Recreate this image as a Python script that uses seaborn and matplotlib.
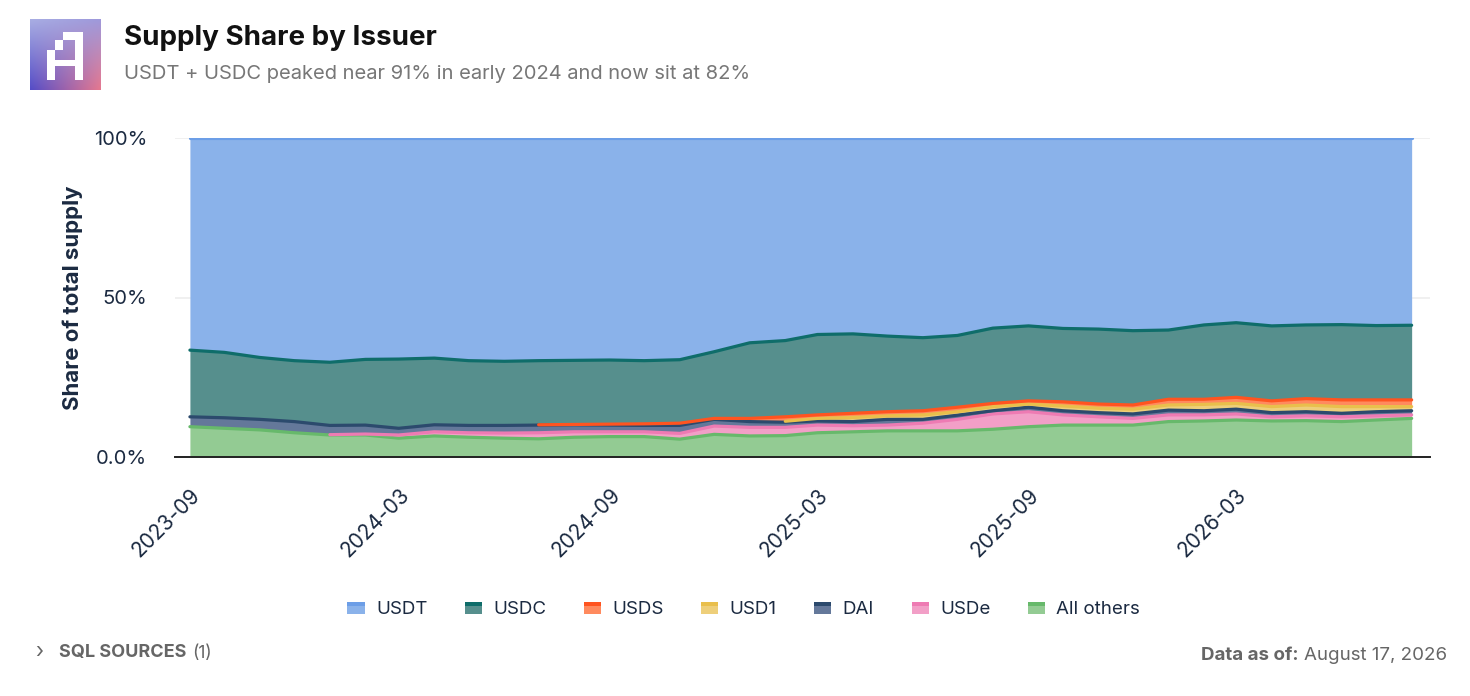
import numpy as np
import pandas as pd
import matplotlib
matplotlib.use("Agg")
import matplotlib.pyplot as plt
import seaborn as sns
from matplotlib.patches import Rectangle, Patch
from matplotlib.legend_handler import HandlerBase

# ---------------- data (share of total supply, %) ----------------
months = pd.date_range("2023-09-01", periods=36, freq="MS")
all_others = [9.5, 9.0, 8.5, 7.6, 6.9, 6.9, 5.9, 6.6, 6.2, 5.9, 5.7, 6.2, 6.4, 6.4, 5.6, 7.1, 6.6, 6.7,
              7.6, 7.9, 8.2, 8.2, 8.2, 8.7, 9.5, 10.0, 10.0, 10.0, 11.1, 11.3, 11.6, 11.3, 11.4, 11.1, 11.6, 12.1]
usde = [0.0, 0.0, 0.0, 0.0, 0.1, 0.3, 1.0, 1.3, 1.4, 1.6, 1.9, 1.7, 1.5, 1.5, 1.8, 2.6, 2.7, 2.6,
        2.4, 1.9, 1.8, 2.4, 3.6, 4.8, 4.7, 3.2, 2.6, 2.1, 2.1, 1.9, 1.9, 1.3, 1.5, 1.5, 1.3, 1.1]
dai = [3.1, 3.3, 3.3, 3.5, 2.9, 2.8, 2.1, 2.2, 2.3, 2.4, 2.4, 2.2, 2.1, 2.0, 2.5, 2.1, 1.8, 1.6,
       1.3, 1.3, 1.8, 1.2, 1.3, 1.0, 1.4, 1.3, 1.3, 1.4, 1.5, 1.3, 1.5, 1.3, 1.3, 1.1, 1.3, 1.3]
usd1 = [0.0, 0.0, 0.0, 0.0, 0.0, 0.0, 0.0, 0.0, 0.0, 0.0, 0.0, 0.0, 0.0, 0.0, 0.0, 0.0, 0.0, 0.3,
        0.8, 1.3, 1.1, 1.4, 1.1, 1.3, 1.0, 1.5, 1.4, 1.5, 1.6, 2.0, 1.8, 1.9, 2.1, 2.1, 1.6, 1.3]
usds = [0.0, 0.0, 0.0, 0.0, 0.0, 0.0, 0.0, 0.0, 0.0, 0.0, 0.1, 0.1, 0.3, 0.5, 0.7, 0.3, 1.0, 1.4,
        1.1, 1.3, 1.3, 1.3, 1.4, 1.0, 1.0, 1.3, 1.3, 1.3, 1.8, 1.6, 1.9, 1.8, 2.0, 2.1, 2.1, 2.1]
usdc = [20.9, 20.5, 19.4, 19.1, 19.8, 20.6, 21.7, 20.9, 20.3, 20.1, 20.1, 20.1, 20.1, 19.8, 19.9, 20.9, 23.7, 23.9,
        25.2, 24.9, 23.7, 22.9, 22.5, 23.6, 23.5, 23.0, 23.5, 23.3, 21.7, 23.3, 23.4, 23.5, 23.1, 23.6, 23.3, 23.4]
usdt = [66.5, 67.2, 68.8, 69.8, 70.3, 69.4, 69.3, 69.0, 69.8, 70.0, 69.8, 69.7, 69.6, 69.8, 69.5, 67.0, 64.2, 63.5,
        61.6, 61.4, 62.1, 62.6, 61.9, 59.6, 58.9, 59.7, 59.9, 60.4, 60.2, 58.6, 57.9, 58.9, 58.6, 58.5, 58.8, 58.7]

# stacking order bottom -> top
series_names = ["All others", "USDe", "DAI", "USD1", "USDS", "USDC", "USDT"]
series_vals = [all_others, usde, dai, usd1, usds, usdc, usdt]
legend_order = ["USDT", "USDC", "USDS", "USD1", "DAI", "USDe", "All others"]

y_ticks = [0, 50, 100]
y_tick_labels = ["0.0%", "50%", "100%"]
x_tick_dates = pd.to_datetime(["2023-09-01", "2024-03-01", "2024-09-01", "2025-03-01", "2025-09-01", "2026-03-01"])
x_tick_labels = ["2023-09", "2024-03", "2024-09", "2025-03", "2025-09", "2026-03"]

fill_colors = {"USDT": "#8ab2ea", "USDC": "#568f8d", "USDS": "#ff8a5e", "USD1": "#eecf7a",
               "DAI": "#64789a", "USDe": "#f29fc7", "All others": "#93cb93"}
line_colors = {"USDT": "#6c9ee7", "USDC": "#0f6d6a", "USDS": "#ff5420", "USD1": "#e9bf4c",
               "DAI": "#2c4a6d", "USDe": "#ee7bb3", "All others": "#67b96b"}

# ---------------- style ----------------
sns.set_theme(style="white")
plt.rcParams["font.family"] = ["Inter", "DejaVu Sans"]
ink = "#1b2a41"

fig = plt.figure(figsize=(14.7, 6.96), dpi=100)
ax = fig.add_axes([175 / 1470, 1 - 457 / 696, (1430 - 175) / 1470, (457 - 138) / 696])

vals = np.array(series_vals, dtype=float)
cum = np.cumsum(vals, axis=0)

ax.stackplot(months, vals, colors=[fill_colors[n] for n in series_names], linewidth=0, zorder=2)

rows = []
for k, name in enumerate(series_names):
    for i, d in enumerate(months):
        if vals[k, i] > 0:
            rows.append({"date": d, "top": cum[k, i], "series": name})
df_lines = pd.DataFrame(rows)
sns.lineplot(data=df_lines, x="date", y="top", hue="series", hue_order=series_names,
             palette=line_colors, linewidth=2.3, legend=False, ax=ax, zorder=3,
             estimator=None, sort=True)

ax.set_xlim(pd.Timestamp("2023-08-19"), pd.Timestamp("2026-08-17"))
ax.set_ylim(0, 100)
ax.set_yticks(y_ticks)
ax.set_yticklabels(y_tick_labels, fontsize=14.5, color=ink)
ax.set_xticks(x_tick_dates)
ax.set_xticklabels(x_tick_labels, fontsize=15, color=ink, rotation=45, ha="right", va="top",
                   rotation_mode="anchor")
ax.tick_params(axis="both", length=0)
ax.tick_params(axis="x", pad=20)
ax.tick_params(axis="y", pad=20)
ax.set_xlabel("")
ax.set_ylabel("Share of total supply", fontsize=16, fontweight="bold", color=ink, labelpad=8)
ax.yaxis.grid(True, color="#eeeeee", linewidth=1.2, zorder=0)
ax.xaxis.grid(False)
for s in ["top", "right", "left"]:
    ax.spines[s].set_visible(False)
ax.spines["bottom"].set_color("#222222")
ax.spines["bottom"].set_linewidth(1.4)
ax.spines["bottom"].set_zorder(5)
ax.set_facecolor("white")


# ---------------- legend ----------------
class StripeHandler(HandlerBase):
    def create_artists(self, legend, orig_handle, xdescent, ydescent, width, height, fontsize, trans):
        fc = orig_handle.get_facecolor()
        ec = orig_handle.get_edgecolor()
        body = Rectangle((-xdescent, -ydescent), width, height * 0.72, facecolor=fc,
                         edgecolor="none", transform=trans)
        top = Rectangle((-xdescent, -ydescent + height * 0.68), width, height * 0.32, facecolor=ec,
                        edgecolor="none", transform=trans)
        return [body, top]


handles = [Patch(facecolor=fill_colors[n], edgecolor=line_colors[n]) for n in legend_order]
fig.legend(handles, legend_order, loc="center", bbox_to_anchor=(0.506, 1 - 610 / 696), ncol=7,
           frameon=False, fontsize=13.5, handlelength=0.92, handleheight=0.6, handletextpad=0.6,
           columnspacing=2.0, labelcolor=ink,
           handler_map={Patch: StripeHandler()})

# ---------------- header ----------------
logo = fig.add_axes([30 / 1470, 1 - 90 / 696, 71 / 1470, 71 / 696])
gx, gy = np.meshgrid(np.linspace(0, 1, 80), np.linspace(0, 1, 80))
c_tl = np.array([0.66, 0.68, 0.89])
c_bl = np.array([0.33, 0.30, 0.78])
c_br = np.array([0.90, 0.47, 0.56])
c_tr = np.array([0.62, 0.60, 0.86])
img = ((1 - gx)[..., None] * (1 - gy)[..., None] * c_tl + gx[..., None] * (1 - gy)[..., None] * c_tr
       + (1 - gx)[..., None] * gy[..., None] * c_bl + gx[..., None] * gy[..., None] * c_br)
logo.imshow(img, extent=(0, 1, 1, 0), aspect="auto")
for (x0, x1, y0, y1) in [(0.24, 0.35, 0.44, 0.86), (0.35, 0.47, 0.30, 0.44), (0.47, 0.75, 0.18, 0.30),
                         (0.64, 0.75, 0.18, 0.86), (0.24, 0.75, 0.58, 0.66)]:
    logo.add_patch(Rectangle((x0, y0), x1 - x0, y1 - y0, facecolor="white", edgecolor="none"))
logo.set_xlim(0, 1)
logo.set_ylim(1, 0)
logo.axis("off")

fig.text(124 / 1470, 1 - 38 / 696, "Supply Share by Issuer", fontsize=20, fontweight="bold",
         color="#111111", ha="left", va="center")
fig.text(124 / 1470, 1 - 74 / 696, "USDT + USDC peaked near 91% in early 2024 and now sit at 82%",
         fontsize=14.5, color="#777777", ha="left", va="center")

# ---------------- footer ----------------
fig.text(35 / 1470, 1 - 652 / 696, "›", fontsize=15, color="#666666", ha="left", va="center")
t1 = fig.text(59 / 1470, 1 - 653 / 696, "SQL SOURCES", fontsize=13, fontweight="bold",
              color="#666666", ha="left", va="center")
fig.canvas.draw()
r = fig.canvas.get_renderer()
bb = t1.get_window_extent(r)
fig.text((bb.x1 + 6) / 1470, 1 - 653 / 696, "(1)", fontsize=12.5, color="#666666", ha="left", va="center")

t2 = fig.text(1447 / 1470, 1 - 656 / 696, "August 17, 2026", fontsize=13.5, color="#666666",
              ha="right", va="center")
bb2 = t2.get_window_extent(r)
fig.text((bb2.x0 - 5) / 1470, 1 - 656 / 696, "Data as of:", fontsize=13.5, fontweight="bold",
         color="#666666", ha="right", va="center")

fig.savefig("out.png", dpi=100, facecolor="white")
